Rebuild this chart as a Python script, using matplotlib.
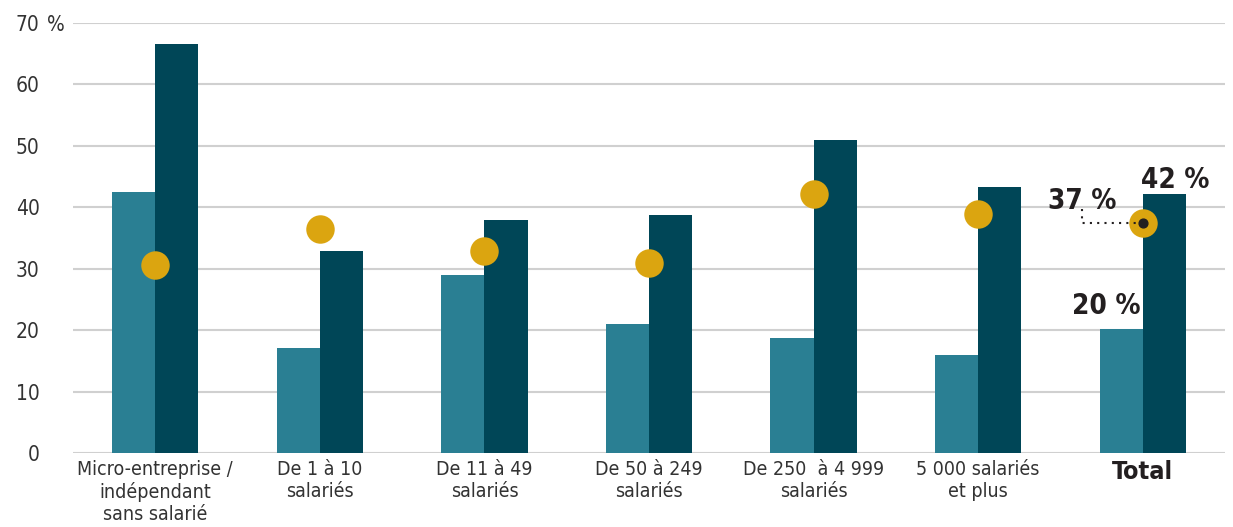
import matplotlib.pyplot as plt
from matplotlib import font_manager, transforms
import numpy as np

fonts = font_manager.fontManager.ttflist
condensed = any(f.name == 'DejaVu Sans' and f.stretch == 'condensed' for f in fonts)
plt.rcParams['font.family'] = ['DejaVu Sans']
if condensed:
    plt.rcParams['font.stretch'] = 'condensed'
    fs_x, fs_y, fs_b = 14, 15, 20
else:
    fs_x, fs_y, fs_b = 12.5, 14, 18

categories = ["Micro-entreprise /\nindépendant\nsans salarié", "De 1 à 10\nsalariés",
              "De 11 à 49\nsalariés", "De 50 à 249\nsalariés", "De 250  à 4 999\nsalariés",
              "5 000 salariés\net plus", "Total"]
serie_claire = [42.5, 17.1, 29.0, 21.0, 18.7, 16.0, 20.2]
serie_foncee = [66.6, 32.9, 37.9, 38.7, 51.0, 43.3, 42.2]
points = [30.6, 36.5, 32.9, 30.9, 42.2, 38.9, 37.5]
yticks = [0, 10, 20, 30, 40, 50, 60, 70]

c_light = '#2a7f93'
c_dark = '#004657'
c_dot = '#dba510'
c_text = '#231f20'

fig = plt.figure(figsize=(12.33, 5.27), dpi=100)
ax = fig.add_axes([0.0592, 0.1404, 0.9343, 0.816])

x = np.arange(len(categories))
w = 0.262
ax.bar(x - w / 2, serie_claire, w, color=c_light, zorder=2)
ax.bar(x + w / 2, serie_foncee, w, color=c_dark, zorder=2)
ax.scatter(x, points, s=420, color=c_dot, zorder=3, linewidths=0)

ax.set_xlim(-0.5, 6.5)
ax.set_ylim(0, 70)
ax.set_yticks(yticks)
ax.set_yticklabels([str(v) for v in yticks], fontsize=fs_y, color='#333333')
ax.set_xticks(x)
ax.set_xticklabels(categories, fontsize=fs_x, color='#333333')
tot = ax.get_xticklabels()[-1]
tot.set_fontweight('bold')
tot.set_fontsize(fs_b - 2)
tot.set_color(c_text)
ax.tick_params(axis='x', length=0, pad=5)
ax.tick_params(axis='y', length=0, pad=24)
ax.grid(axis='y', color='#d0d0d0', linewidth=1.5, zorder=0)
ax.set_axisbelow(True)
for s in ax.spines.values():
    s.set_visible(False)

# unit after the top tick label
tr = transforms.blended_transform_factory(fig.transFigure, ax.transData)
ax.text(41 / 1233, yticks[-1], " %", transform=tr, ha='left', va='center_baseline',
        fontsize=fs_y, color='#333333')

# annotations on the Total group
t = len(categories) - 1
ax.text(t + 0.195, serie_foncee[t] + 0.9, "42 %", ha='center', va='baseline',
        fontsize=fs_b, fontweight='bold', color=c_text)
ax.text(t - 0.22, serie_claire[t] + 2.4, "20 %", ha='center', va='baseline',
        fontsize=fs_b, fontweight='bold', color=c_text)
ax.text(t - 0.37, points[t] + 2.2, "37 %", ha='center', va='baseline',
        fontsize=fs_b, fontweight='bold', color=c_text)
ax.plot([t - 0.37, t - 0.37, t], [points[t] + 2.2, points[t], points[t]],
        color=c_text, linestyle=(0, (1, 2.5)), linewidth=1.5, zorder=4)
ax.scatter([t], [points[t]], s=40, color=c_text, zorder=5)

fig.savefig('out.png', dpi=100)
